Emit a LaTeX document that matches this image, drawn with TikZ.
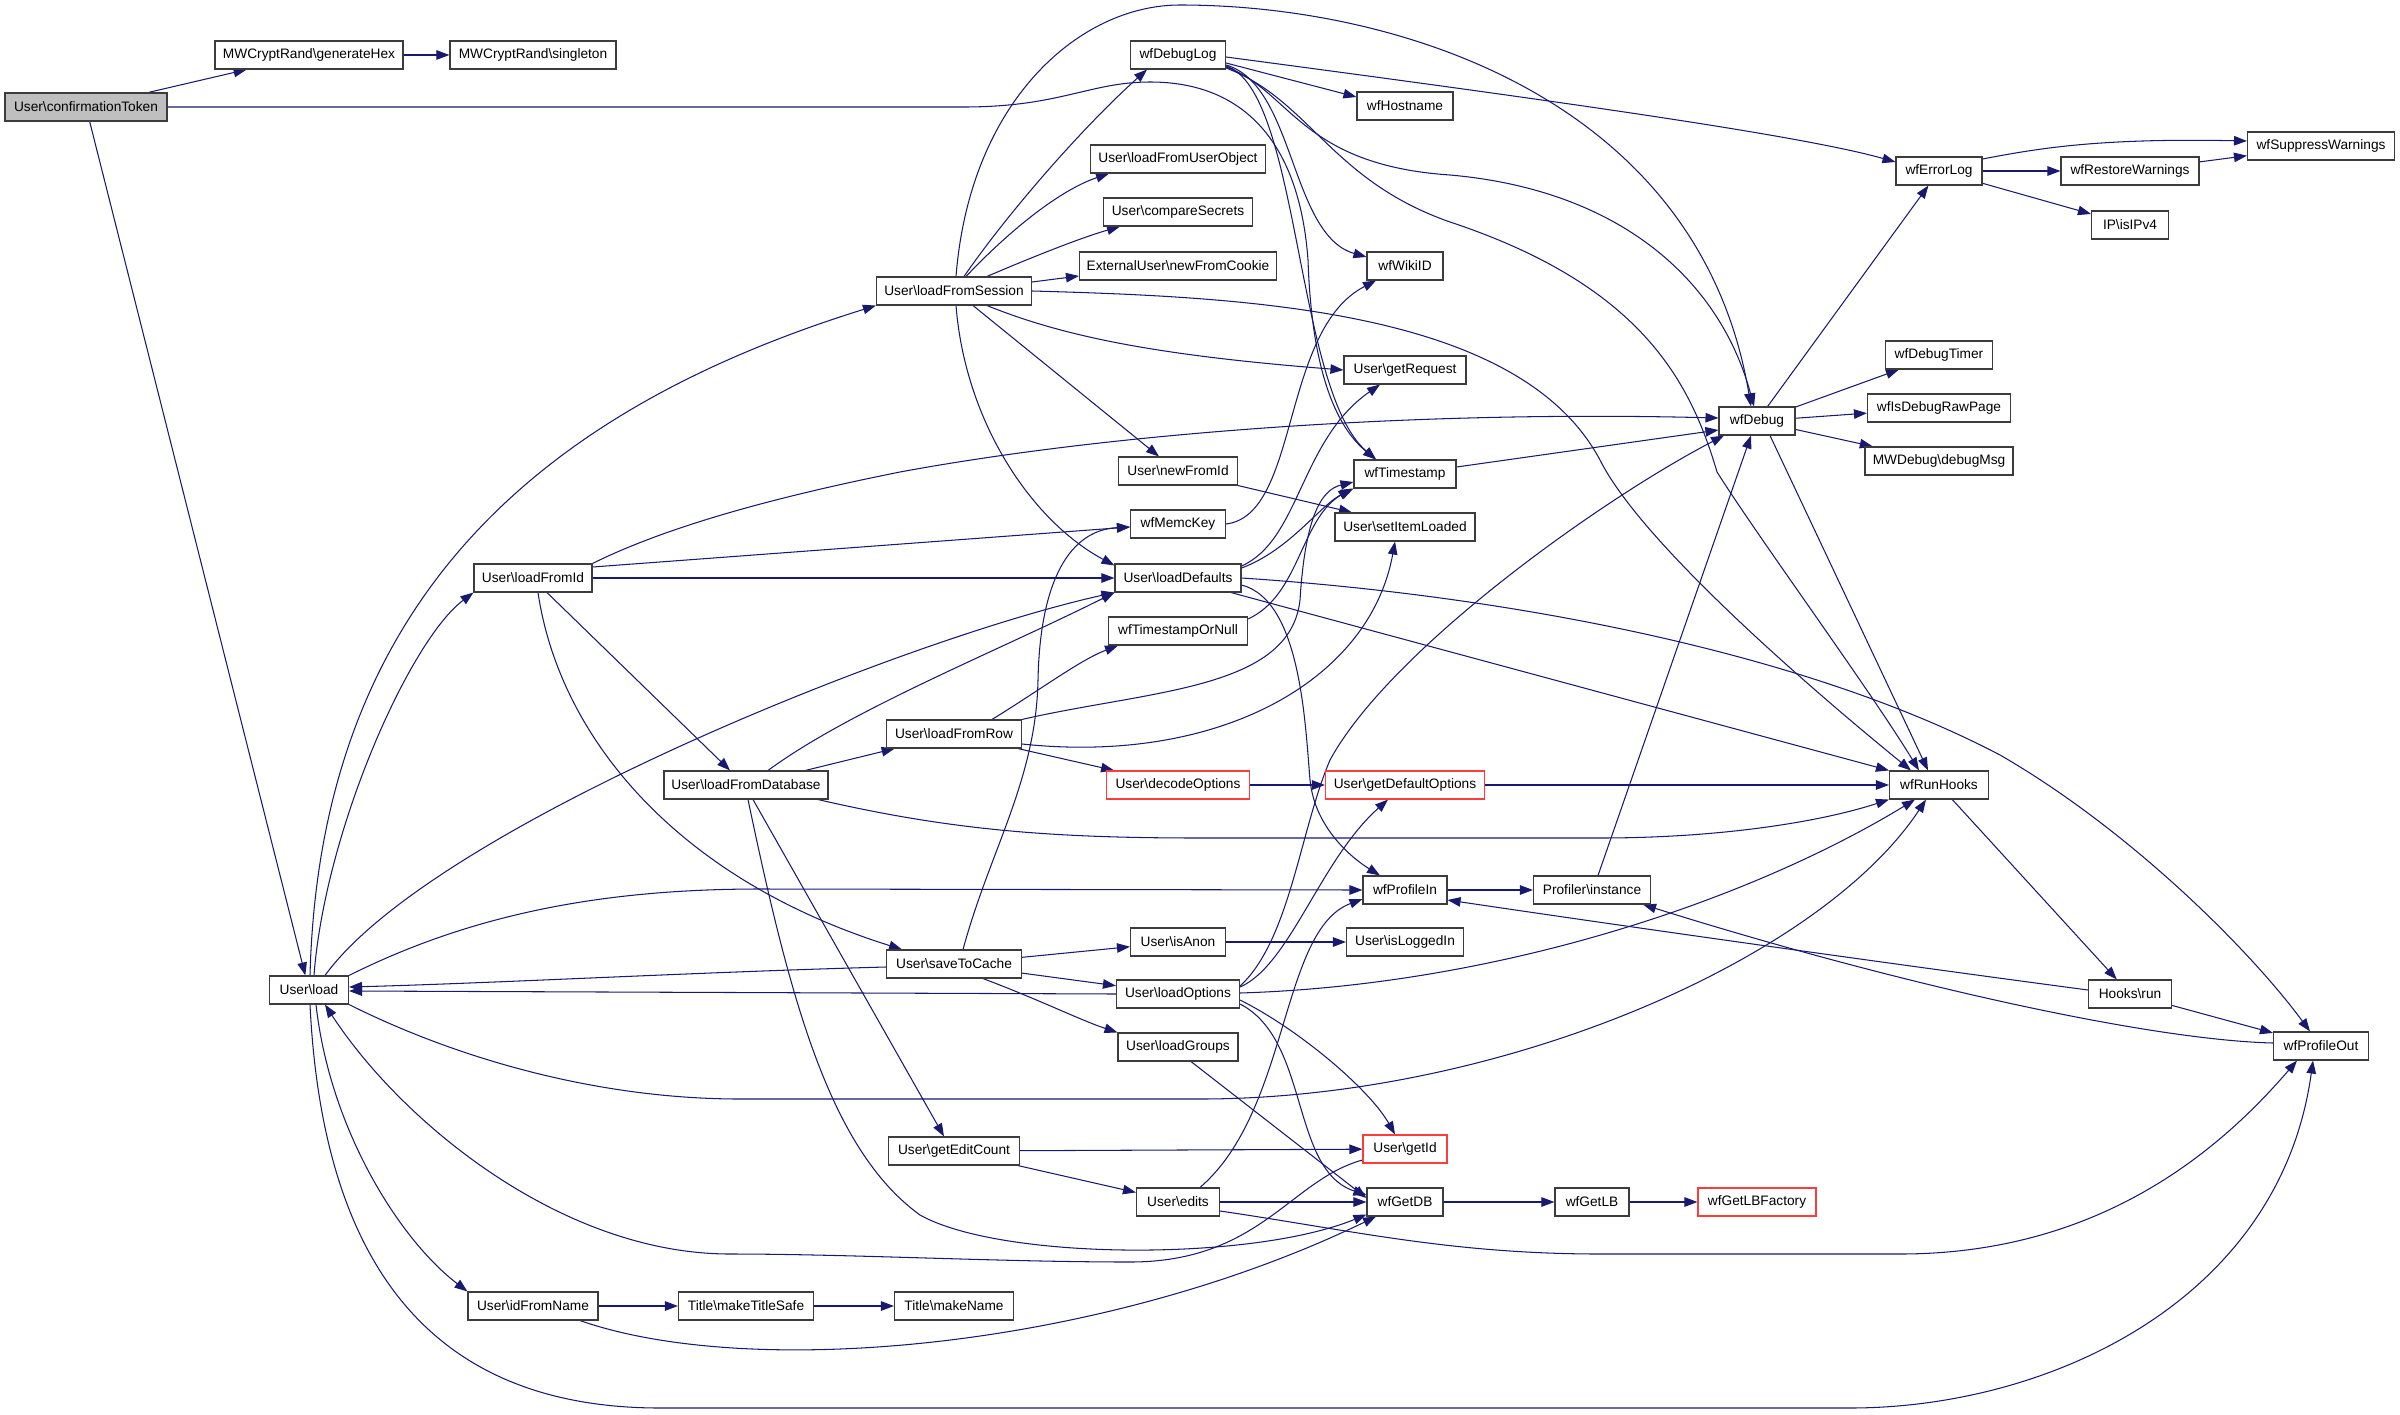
\documentclass[tikz,border=0pt]{standalone}
\usepackage{fontspec}
\setmainfont{Liberation Sans}
\usetikzlibrary{arrows.meta}
\definecolor{edgec}{RGB}{25,25,112}
\definecolor{boxc}{RGB}{60,60,60}
\definecolor{redc}{RGB}{255,60,60}
\newcommand{\BSL}{\textbackslash}
\pgfdeclarelayer{bg}
\pgfsetlayers{bg,main}
\begin{document}
\begin{tikzpicture}[x=1pt,y=-1pt,
  box/.style={draw=boxc, line width=1.1pt, fill=white, minimum height=28pt, inner xsep=2pt, inner ysep=0pt, text=black, font=\fontsize{13.7pt}{15pt}\selectfont},
  redbox/.style={box, draw=redc},
  e/.style={draw=edgec, line width=1.05pt, -{Triangle[length=13pt,width=9.5pt,fill=edgec]}}]
\useasboundingbox (0,0) rectangle (2400,1415);
% nodes
\node[box,fill=gray!50,minimum width=162pt] (ct) at (86,107) {User\BSL confirmationToken};
\node[box,minimum width=188pt] (gh) at (309,55) {MWCryptRand\BSL generateHex};
\node[box,minimum width=166pt] (sg) at (533,55) {MWCryptRand\BSL singleton};
\node[box,minimum width=79pt] (load) at (309,990) {User\BSL load};
\node[box,minimum width=155pt] (lfs) at (954,291) {User\BSL loadFromSession};
\node[box,minimum width=118pt] (lfi) at (533,578) {User\BSL loadFromId};
\node[box,minimum width=130pt] (inm) at (533,1306) {User\BSL idFromName};
\node[box,minimum width=95pt] (dlog) at (1178,55) {wfDebugLog};
\node[box,minimum width=175pt] (lfuo) at (1178,159) {User\BSL loadFromUserObject};
\node[box,minimum width=149pt] (cs) at (1178,212) {User\BSL compareSecrets};
\node[box,minimum width=197pt] (nfc) at (1178,266) {ExternalUser\BSL newFromCookie};
\node[box,minimum width=119pt] (nfi) at (1178,471) {User\BSL newFromId};
\node[box,minimum width=95pt] (memc) at (1178,524) {wfMemcKey};
\node[box,minimum width=126pt] (ldef) at (1178,578) {User\BSL loadDefaults};
\node[box,minimum width=139pt] (tsn) at (1178,631) {wfTimestampOrNull};
\node[box,minimum width=135pt] (lfr) at (954,734) {User\BSL loadFromRow};
\node[box,minimum width=164pt] (lfd) at (746,785) {User\BSL loadFromDatabase};
\node[redbox,minimum width=143pt] (dec) at (1178,785) {User\BSL decodeOptions};
\node[box,minimum width=135pt] (stc) at (954,964) {User\BSL saveToCache};
\node[box,minimum width=95pt] (anon) at (1178,942) {User\BSL isAnon};
\node[box,minimum width=123pt] (lopt) at (1178,994) {User\BSL loadOptions};
\node[box,minimum width=120pt] (lgrp) at (1178,1047) {User\BSL loadGroups};
\node[box,minimum width=131pt] (gec) at (954,1151) {User\BSL getEditCount};
\node[box,minimum width=83pt] (edits) at (1178,1202) {User\BSL edits};
\node[box,minimum width=135pt] (mts) at (746,1306) {Title\BSL makeTitleSafe};
\node[box,minimum width=119pt] (mn) at (954,1306) {Title\BSL makeName};
\node[box,minimum width=96pt] (host) at (1405,106) {wfHostname};
\node[box,minimum width=76pt] (wiki) at (1405,266) {wfWikiID};
\node[box,minimum width=122pt] (greq) at (1405,370) {User\BSL getRequest};
\node[box,minimum width=102pt] (ts) at (1405,474) {wfTimestamp};
\node[box,minimum width=140pt] (sil) at (1405,527) {User\BSL setItemLoaded};
\node[redbox,minimum width=159pt] (gdo) at (1405,785) {User\BSL getDefaultOptions};
\node[box,minimum width=84pt] (pin) at (1405,890) {wfProfileIn};
\node[box,minimum width=117pt] (ili) at (1405,942) {User\BSL isLoggedIn};
\node[redbox,minimum width=84pt] (gid) at (1405,1149) {User\BSL getId};
\node[box,minimum width=76pt] (gdb) at (1405,1202) {wfGetDB};
\node[box,minimum width=117pt] (prof) at (1592,890) {Profiler\BSL instance};
\node[box,minimum width=74pt] (glb) at (1592,1202) {wfGetLB};
\node[redbox,minimum width=118pt] (glbf) at (1757,1202) {wfGetLBFactory};
\node[box,minimum width=76pt] (dbg) at (1757,421) {wfDebug};
\node[box,minimum width=86pt] (elog) at (1939,171) {wfErrorLog};
\node[box,minimum width=107pt] (dtimer) at (1939,355) {wfDebugTimer};
\node[box,minimum width=143pt] (raw) at (1939,408) {wfIsDebugRawPage};
\node[box,minimum width=148pt] (dmsg) at (1939,461) {MWDebug\BSL debugMsg};
\node[box,minimum width=99pt] (hooks) at (1939,785) {wfRunHooks};
\node[box,minimum width=138pt] (rw) at (2130,171) {wfRestoreWarnings};
\node[box,minimum width=77pt] (ipv4) at (2130,225) {IP\BSL isIPv4};
\node[box,minimum width=83pt] (hrun) at (2130,994) {Hooks\BSL run};
\node[box,minimum width=147pt] (sw) at (2321,146) {wfSuppressWarnings};
\node[box,minimum width=95pt] (pout) at (2321,1046) {wfProfileOut};
% edges
\begin{pgfonlayer}{bg}
\draw[e] (ct) -- (gh);
\draw[e] (gh) -- (sg);
\draw[e] (ct) -- (load);
\draw[e] (ct.east) -- (964,107) .. controls (1060,107) and (1090,82) .. (1150,82) .. controls (1250,82) and (1300,150) .. (1308,260) .. controls (1312,380) and (1340,430) .. ([xshift=-29pt]ts.north);
% load
\draw[e] ([xshift=1pt]load.north) .. controls (320,600) and (540,410) .. (lfs.south west);
\draw[e] ([xshift=5pt]load.north) .. controls (325,830) and (410,640) .. (lfi.south west);
\draw[e] ([xshift=16pt]load.north) .. controls (430,830) and (900,640) .. (ldef.south west);
\draw[e] (load.north east) .. controls (470,915) and (600,889) .. (760,889) -- (pin.west);
\draw[e] (load.south east) .. controls (460,1060) and (600,1099) .. (740,1099) -- (1200,1099) .. controls (1500,1099) and (1820,960) .. ([xshift=-13pt]hooks.south);
\draw[e] ([xshift=7pt]load.south) .. controls (330,1130) and (400,1240) .. (inm.north west);
\draw[e] ([xshift=1pt]load.south) .. controls (322,1250) and (420,1408) .. (660,1408) -- (1850,1408) .. controls (2050,1408) and (2280,1300) .. ([xshift=-8pt]pout.south);
% loadFromSession
\draw[e] ([xshift=10pt]lfs.north) .. controls (1010,210) and (1085,125) .. ([xshift=-31pt]dlog.south);
\draw[e] ([xshift=2pt]lfs.north) .. controls (970,100) and (1080,5) .. (1180,5) .. controls (1400,5) and (1700,100) .. ([xshift=-6pt]dbg.north);
\draw[e] ([xshift=12pt]lfs.north) .. controls (1010,230) and (1060,190) .. ([xshift=-69pt]lfuo.south);
\draw[e] ([xshift=33pt]lfs.north) .. controls (1030,258) and (1080,238) .. ([xshift=-58pt]cs.south);
\draw[e] ([yshift=9pt]lfs.east) -- ([yshift=-10pt]nfc.west);
\draw[e] (lfs.east) .. controls (1250,297) and (1520,310) .. (1600,460) .. controls (1640,540) and (1800,680) .. ([xshift=-28pt]hooks.north);
\draw[e] ([xshift=33pt]lfs.south) .. controls (1060,335) and (1150,355) .. (greq.west);
\draw[e] ([xshift=19pt]lfs.south) -- ([xshift=-19pt]nfi.north);
\draw[e] ([xshift=2pt]lfs.south) .. controls (965,420) and (1030,520) .. ([yshift=-2pt]ldef.north west);
% wfDebugLog
\draw[e] ([yshift=-8pt]dlog.east) -- ([yshift=9pt]host.west);
\draw[e] ([yshift=-2pt]dlog.east) .. controls (1550,100) and (1800,135) .. ([yshift=9pt]elog.west);
\draw[e] ([yshift=-10pt]dlog.east) .. controls (1295,85) and (1290,235) .. ([yshift=9pt]wiki.west);
\draw[e] ([yshift=-11pt]dlog.east) .. controls (1300,90) and (1295,390) .. ([xshift=-29pt]ts.north);
\draw[e] ([yshift=-12pt]dlog.east) .. controls (1290,90) and (1300,165) .. (1450,175) .. controls (1620,190) and (1720,280) .. ([xshift=-3pt]dbg.north);
\draw[e] ([yshift=-13pt]dlog.east) .. controls (1310,100) and (1330,180) .. (1450,222) .. controls (1640,285) and (1690,380) .. (1717,472) .. controls (1760,540) and (1870,690) .. ([xshift=-20pt]hooks.north);
% loadFromId
\draw[e] (lfi.north east) .. controls (660,530) and (760,500) .. (900,472) .. controls (1100,435) and (1400,410) .. ([yshift=3pt]dbg.west);
\draw[e] ([yshift=11pt]lfi.east) -- ([yshift=-3pt]memc.west);
\draw[e] (lfi.east) -- (ldef.west);
\draw[e] ([xshift=14pt]lfi.south) -- ([xshift=-16pt]lfd.north);
\draw[e] ([xshift=5pt]lfi.south) .. controls (560,740) and (680,880) .. ([xshift=-52pt]stc.north);
% loadFromDatabase
\draw[e] (lfd) -- (lfr);
\draw[e] ([xshift=22pt]lfd.north) .. controls (850,710) and (1000,650) .. (ldef.south west);
\draw[e] ([xshift=72pt]lfd.south) .. controls (950,830) and (1050,838) .. (1200,838) -- (1600,838) .. controls (1720,838) and (1820,822) .. (hooks.south west);
\draw[e] ([xshift=7pt]lfd.south) -- ([xshift=-10pt]gec.north);
\draw[e] ([xshift=2pt]lfd.south) .. controls (790,1000) and (830,1150) .. (920,1215) .. controls (1000,1260) and (1250,1262) .. ([yshift=2pt]gdb.south west);
% loadFromRow
\draw[e] ([xshift=38pt]lfr.north) .. controls (1040,690) and (1080,660) .. ([xshift=-60pt]tsn.south);
\draw[e] (lfr.north east) .. controls (1150,690) and (1290,690) .. (1300,600) .. controls (1305,520) and (1320,490) .. ([yshift=-8pt]ts.west);
\draw[e] ([yshift=-10pt]lfr.east) .. controls (1220,765) and (1370,680) .. ([xshift=-10pt]sil.south);
\draw[e] (lfr) -- (dec);
% loadDefaults
\draw[e] ([yshift=10pt]ldef.east) .. controls (1290,550) and (1320,505) .. (ts.south west);
\draw[e] ([yshift=12pt]ldef.east) .. controls (1300,540) and (1300,440) .. ([xshift=-25pt]greq.south);
\draw[e] ([yshift=-7pt]ldef.east) .. controls (1300,600) and (1305,720) .. (1310,780) .. controls (1315,830) and (1355,860) .. ([xshift=-25pt]pin.north);
\draw[e] (ldef.east) .. controls (1500,595) and (1800,650) .. (2000,755) .. controls (2130,830) and (2250,950) .. ([xshift=-11pt]pout.north);
\draw[e] ([xshift=53pt]ldef.south) -- (hooks.north west);
% misc
\draw[e] (nfi.south east) -- ([xshift=-53pt]sil.north);
\draw[e] (memc.east) .. controls (1300,515) and (1280,330) .. ([xshift=-29pt]wiki.south);
\draw[e] ([yshift=12pt]tsn.east) .. controls (1300,595) and (1300,520) .. ([xshift=-2pt]ts.south west);
\draw[e] ([yshift=7pt]ts.east) -- ([yshift=-9pt]dbg.west);
\draw[e] (dec) -- (gdo);
\draw[e] (gdo) -- (hooks);
% saveToCache
\draw[e] ([xshift=9pt]stc.north) .. controls (990,850) and (1036,780) .. (1038,680) .. controls (1040,580) and (1070,530) .. ([yshift=-3pt]memc.west);
\draw[e] (stc) -- (anon);
\draw[e] (stc) -- (lopt);
\draw[e] ([xshift=29pt]stc.south) .. controls (1040,1000) and (1080,1020) .. (lgrp.north west);
\draw[e] ([yshift=-3pt]stc.west) .. controls (700,972) and (500,983) .. ([yshift=3pt]load.east);
% loadOptions
\draw[e] (lopt.west) -- ([yshift=-1pt]load.east);
\draw[e] ([yshift=7pt]lopt.east) .. controls (1290,965) and (1320,860) .. ([xshift=-17pt]gdo.south);
\draw[e] ([yshift=8pt]lopt.east) .. controls (1290,940) and (1300,830) .. (1330,760) .. controls (1390,650) and (1600,500) .. ([xshift=-33pt]dbg.south);
\draw[e] ([yshift=1pt]lopt.east) .. controls (1500,985) and (1750,900) .. ([xshift=-24pt]hooks.south);
\draw[e] ([yshift=-6pt]lopt.east) .. controls (1300,1030) and (1370,1090) .. ([xshift=-10pt]gid.north);
\draw[e] ([yshift=-10pt]lopt.east) .. controls (1310,1040) and (1290,1170) .. ([yshift=7pt]gdb.west);
\draw[e] ([xshift=13pt]lgrp.south) -- ([yshift=4pt]gdb.west);
\draw[e] (anon) -- (ili);
% getEditCount / edits
\draw[e] (gec) -- (gid);
\draw[e] (gec) -- (edits);
\draw[e] (edits) -- (gdb);
\draw[e] ([xshift=22pt]edits.north) .. controls (1290,1110) and (1280,930) .. ([yshift=-9pt]pin.west);
\draw[e] ([yshift=-9pt]edits.east) .. controls (1350,1230) and (1450,1254) .. (1600,1254) -- (1900,1254) .. controls (2100,1254) and (2220,1150) .. ([xshift=-24pt]pout.south);
\draw[e] ([yshift=-11pt]gid.west) .. controls (1290,1180) and (1260,1262) .. (1130,1262) .. controls (1000,1262) and (850,1254) .. (730,1254) .. controls (560,1254) and (400,1120) .. ([xshift=16pt]load.south);
% idFromName
\draw[e] (inm) -- (mts);
\draw[e] ([xshift=47pt]inm.south) .. controls (750,1380) and (1100,1350) .. ([xshift=-29pt]gdb.south);
\draw[e] (mts) -- (mn);
\draw[e] (gdb) -- (glb);
\draw[e] (glb) -- (glbf);
% profiling / debug
\draw[e] (pin) -- (prof);
\draw[e] ([xshift=6pt]prof.north) -- ([xshift=-6pt]dbg.south);
\draw[e] (dbg) -- (elog);
\draw[e] (dbg) -- (dtimer);
\draw[e] (dbg) -- (raw);
\draw[e] (dbg) -- (dmsg);
\draw[e] ([xshift=13pt]dbg.south) -- ([xshift=-11pt]hooks.north);
\draw[e] ([yshift=12pt]elog.east) .. controls (2040,148) and (2100,138) .. ([yshift=5pt]sw.west);
\draw[e] (elog) -- (rw);
\draw[e] (elog) -- (ipv4);
\draw[e] (rw) -- (sw);
\draw[e] (hooks) -- (hrun);
\draw[e] (hrun) -- (pout);
\draw[e] ([yshift=4pt]hrun.west) .. controls (1900,965) and (1650,930) .. ([yshift=-10pt]pin.east);
\draw[e] ([yshift=3pt]pout.west) .. controls (2150,1040) and (1900,985) .. ([xshift=-8pt]prof.south east);
\end{pgfonlayer}
\end{tikzpicture}
\end{document}
